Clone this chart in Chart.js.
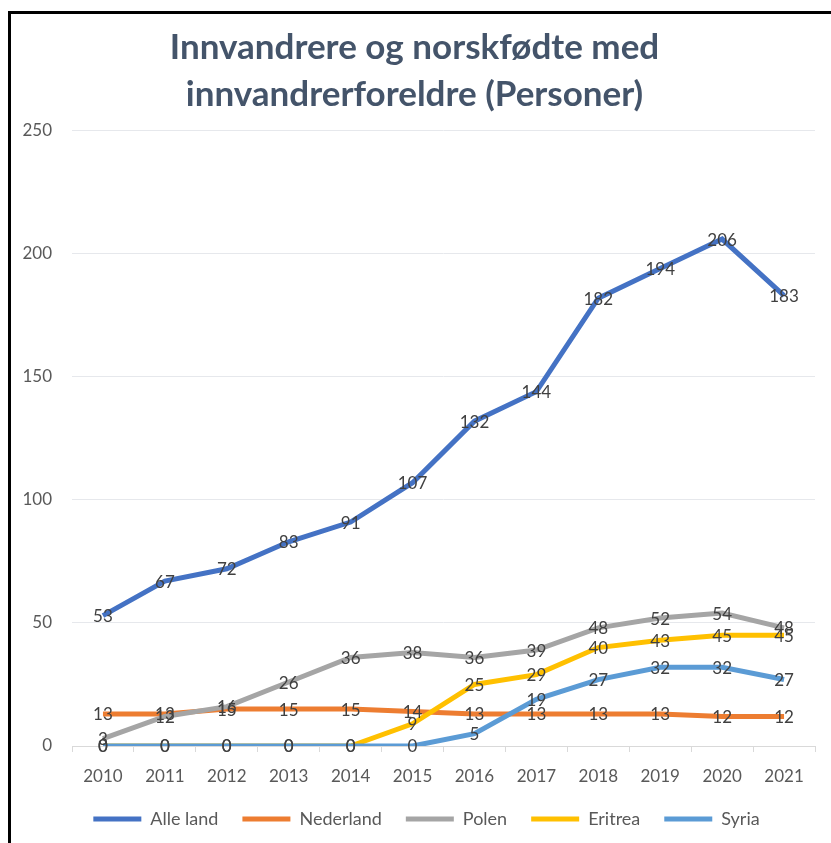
<!DOCTYPE html>
<html>
<head>
<meta charset="utf-8">
<script src="https://cdn.jsdelivr.net/npm/chart.js@4"></script>
<style>
  html, body { margin: 0; padding: 0; background: #fff; }
  #wrap { position: relative; width: 831px; height: 843px; }
  #frame { position: absolute; left: 8px; top: 11px; right: 0; bottom: 0;
           border-top: 3px solid #000; border-left: 3px solid #000; pointer-events: none; }
</style>
</head>
<body>
<div id="wrap">
  <canvas id="myChart" width="831" height="843"></canvas>
  <div id="frame"></div>
</div>
<script>
const years = ['2010', '2011', '2012', '2013', '2014', '2015', '2016', '2017', '2018', '2019', '2020', '2021'];
const alleLand = [53, 67, 72, 83, 91, 107, 132, 144, 182, 194, 206, 183];
const nederland = [13, 13, 15, 15, 15, 14, 13, 13, 13, 13, 12, 12];
const polen = [3, 12, 16, 26, 36, 38, 36, 39, 48, 52, 54, 48];
const eritrea = [0, 0, 0, 0, 0, 9, 25, 29, 40, 43, 45, 45];
const syria = [0, 0, 0, 0, 0, 0, 5, 19, 27, 32, 32, 27];
const yTicks = [0, 50, 100, 150, 200, 250];

const txt = '#595959';

// small label plugin, values centered on the points like Excel
const pointLabels = {
  id: 'pointLabels',
  afterDatasetsDraw(chart) {
    const ctx = chart.ctx;
    ctx.save();
    ctx.font = '17px Lato';
    ctx.fillStyle = '#404040';
    ctx.textAlign = 'center';
    ctx.textBaseline = 'middle';
    chart.data.datasets.forEach((ds, i) => {
      chart.getDatasetMeta(i).data.forEach((pt, j) => {
        ctx.fillText(String(ds.data[j]), pt.x, pt.y + 1);
      });
    });
    ctx.restore();
  }
};

// legend sits a bit right of center in the original
const legendShift = {
  id: 'legendShift',
  afterUpdate(chart) {
    if (chart.legend) {
      chart.legend.left += 12;
      chart.legend.right += 12;
    }
  }
};

function line(label, data, color, order) {
  return {
    label: label,
    data: data,
    borderColor: color,
    backgroundColor: color,
    borderWidth: 5,
    pointRadius: 0,
    tension: 0,
    order: order
  };
}

const ctx = document.getElementById('myChart').getContext('2d');
new Chart(ctx, {
  type: 'line',
  data: {
    labels: years,
    datasets: [
      line('Alle land', alleLand, '#4472C4', 5),
      line('Nederland', nederland, '#ED7D31', 4),
      line('Polen', polen, '#A5A5A5', 3),
      line('Eritrea', eritrea, '#FFC000', 2),
      line('Syria', syria, '#5B9BD5', 1)
    ]
  },
  plugins: [pointLabels, legendShift],
  options: {
    responsive: false,
    animation: false,
    layout: { padding: { left: 14, right: 16, top: 24, bottom: 5 } },
    plugins: {
      tooltip: { enabled: false },
      title: {
        display: true,
        text: ['Innvandrere og norskfødte med', 'innvandrerforeldre (Personer)'],
        color: '#44546A',
        font: { family: 'Lato', size: 35, weight: 'bold', lineHeight: 1.34 },
        padding: { top: 0, bottom: 13 }
      },
      legend: {
        position: 'bottom',
        labels: {
          color: txt,
          font: { family: 'Lato', size: 18 },
          boxWidth: 48,
          boxHeight: 5,
          padding: 24,
          sort: (a, b) => a.datasetIndex - b.datasetIndex,
          generateLabels(chart) {
            return chart.data.datasets.map((ds, i) => ({
              text: ds.label,
              fillStyle: ds.borderColor,
              strokeStyle: ds.borderColor,
              lineWidth: 0,
              fontColor: txt,
              hidden: false,
              datasetIndex: i
            }));
          }
        }
      }
    },
    scales: {
      x: {
        offset: true,
        afterFit(scale) { scale.height = 40; },
        grid: { display: true, drawOnChartArea: false, drawTicks: true, tickLength: 6, color: '#D9D9D9', offset: true },
        border: { color: '#D9D9D9' },
        ticks: { color: txt, font: { family: 'Lato', size: 17 }, padding: 14, maxRotation: 0 }
      },
      y: {
        min: 0,
        max: 250,
        afterBuildTicks(scale) { scale.ticks = yTicks.map(v => ({ value: v })); },
        afterFit(scale) { scale.width = 58; },
        grid: { color: '#E6E8EC', drawTicks: false },
        border: { display: false },
        ticks: { color: txt, font: { family: 'Lato', size: 17 }, padding: 20 }
      }
    }
  }
});
</script>
</body>
</html>
